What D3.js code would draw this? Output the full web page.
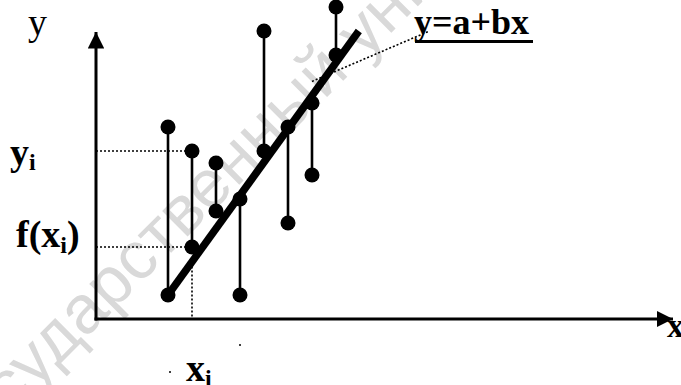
<!DOCTYPE html>
<html>
<head>
<meta charset="utf-8">
<script src="https://cdn.jsdelivr.net/npm/d3@7"></script>
<style>
  html, body { margin: 0; padding: 0; background: #fff; }
  svg { display: block; }
</style>
</head>
<body>
<div id="plot"></div>
<script>
// chart values (abstract units: origin at the axes corner)
const xs       = [3, 4, 5, 6, 7, 8, 9, 10];          // x positions of the observations
const observed = [8, 7, 6.5, 1, 12, 4, 6, 13];       // measured y
const fitted   = [1, 3, 4.5, 5, 7, 8, 9, 11];        // value on the regression line
const fitLine  = [[3, 1], [10.95, 12]];              // thick line y = a + bx
const markX    = 4;                                  // the highlighted x_i
const markY    = 7;                                  // y_i
const markF    = 3;                                  // f(x_i)
const markLineY = 2.35;                              // where x_i meets the fit line
const leader   = [[9, 9.9], [13.9, 12]];             // dotted pointer to the formula

const width = 681, height = 385;

const svg = d3.select("#plot")
    .append("svg")
    .attr("width", width)
    .attr("height", height);

// scales: 24px per unit
const x = d3.scaleLinear().domain([0, 24]).range([96, 672]);
const y = d3.scaleLinear().domain([0, 13]).range([319, 7]);

// watermark, behind everything
svg.append("text")
    .attr("transform", "translate(-50,440) rotate(-45)")
    .attr("dominant-baseline", "central")
    .style("font-family", "'Liberation Sans', Arial, sans-serif")
    .style("font-size", "68px")
    .attr("fill", "#d9d9d9")
    .text("государственный университет");

// arrow markers
const defs = svg.append("defs");
defs.append("marker")
    .attr("id", "arrow")
    .attr("viewBox", "0 0 10 10")
    .attr("refX", 10).attr("refY", 5)
    .attr("markerWidth", 5.5).attr("markerHeight", 5.5)
    .attr("markerUnits", "strokeWidth")
    .attr("orient", "auto")
    .append("path")
    .attr("d", "M0,0 L10,5 L0,10 Z")
    .attr("fill", "#000");

// axes
svg.append("line")
    .attr("x1", x(0)).attr("y1", y(0) + 1.5)
    .attr("x2", x(0)).attr("y2", 32)
    .attr("stroke", "#000").attr("stroke-width", 3)
    .attr("marker-end", "url(#arrow)");
svg.append("line")
    .attr("x1", x(0) - 1.5).attr("y1", y(0))
    .attr("x2", 673).attr("y2", y(0))
    .attr("stroke", "#000").attr("stroke-width", 3)
    .attr("marker-end", "url(#arrow)");

// dotted guides for x_i, y_i, f(x_i)
const dotted = (x1, y1, x2, y2) => svg.append("line")
    .attr("x1", x1).attr("y1", y1).attr("x2", x2).attr("y2", y2)
    .attr("stroke", "#000").attr("stroke-width", 1.6)
    .attr("stroke-dasharray", "2,2");
dotted(x(0), y(markY), x(markX), y(markY));
dotted(x(0), y(markF), x(markX), y(markF));
dotted(x(markX), y(markLineY), x(markX), y(0));
dotted(x(leader[0][0]), y(leader[0][1]), x(leader[1][0]), y(leader[1][1]));

// residual stems
svg.selectAll("line.stem")
    .data(xs)
    .enter()
    .append("line")
    .attr("class", "stem")
    .attr("x1", (d) => x(d))
    .attr("x2", (d) => x(d))
    .attr("y1", (d, i) => y(observed[i]))
    .attr("y2", (d, i) => y(fitted[i]))
    .attr("stroke", "#000")
    .attr("stroke-width", 2.6);

// regression line
svg.append("line")
    .attr("x1", x(fitLine[0][0])).attr("y1", y(fitLine[0][1]))
    .attr("x2", x(fitLine[1][0])).attr("y2", y(fitLine[1][1]))
    .attr("stroke", "#000").attr("stroke-width", 7.5);

// points: measured and fitted
const pts = xs.flatMap((d, i) => [[d, observed[i]], [d, fitted[i]]]);
svg.selectAll("circle.pt")
    .data(pts)
    .enter()
    .append("circle")
    .attr("class", "pt")
    .attr("cx", (d) => x(d[0]))
    .attr("cy", (d) => y(d[1]))
    .attr("r", 7.5)
    .attr("fill", "#000");

// stray specks of the scan
[[240, 345], [170, 372]].forEach(([cx, cy]) =>
    svg.append("circle").attr("cx", cx).attr("cy", cy).attr("r", 1).attr("fill", "#000"));

// labels
const serif = "'Liberation Serif', 'Times New Roman', serif";
const label = (tx, ty, size, bold) => svg.append("text")
    .attr("x", tx).attr("y", ty)
    .style("font-family", serif)
    .style("font-size", size + "px")
    .style("font-weight", bold ? "bold" : "normal")
    .attr("fill", "#000");

label(28, 35, 38, false).text("y");

const yi = label(10, 165, 38, true);
yi.append("tspan").text("y");
yi.append("tspan").attr("dy", 5).style("font-size", "24px").text("i");

const fx = label(16, 247, 38, true);
fx.append("tspan").text("f(x");
fx.append("tspan").attr("dy", 6).style("font-size", "24px").text("i");
fx.append("tspan").attr("dy", -6).text(")");

const xi = label(186, 381, 38, true);
xi.append("tspan").text("x");
xi.append("tspan").attr("dy", 5).style("font-size", "24px").text("i");

label(667, 337, 34, true).text("x");

label(414, 34, 36, true).text("y=a+bx");
svg.append("line")
    .attr("x1", 415).attr("x2", 533)
    .attr("y1", 41.5).attr("y2", 41.5)
    .attr("stroke", "#000").attr("stroke-width", 3);
</script>
</body>
</html>
